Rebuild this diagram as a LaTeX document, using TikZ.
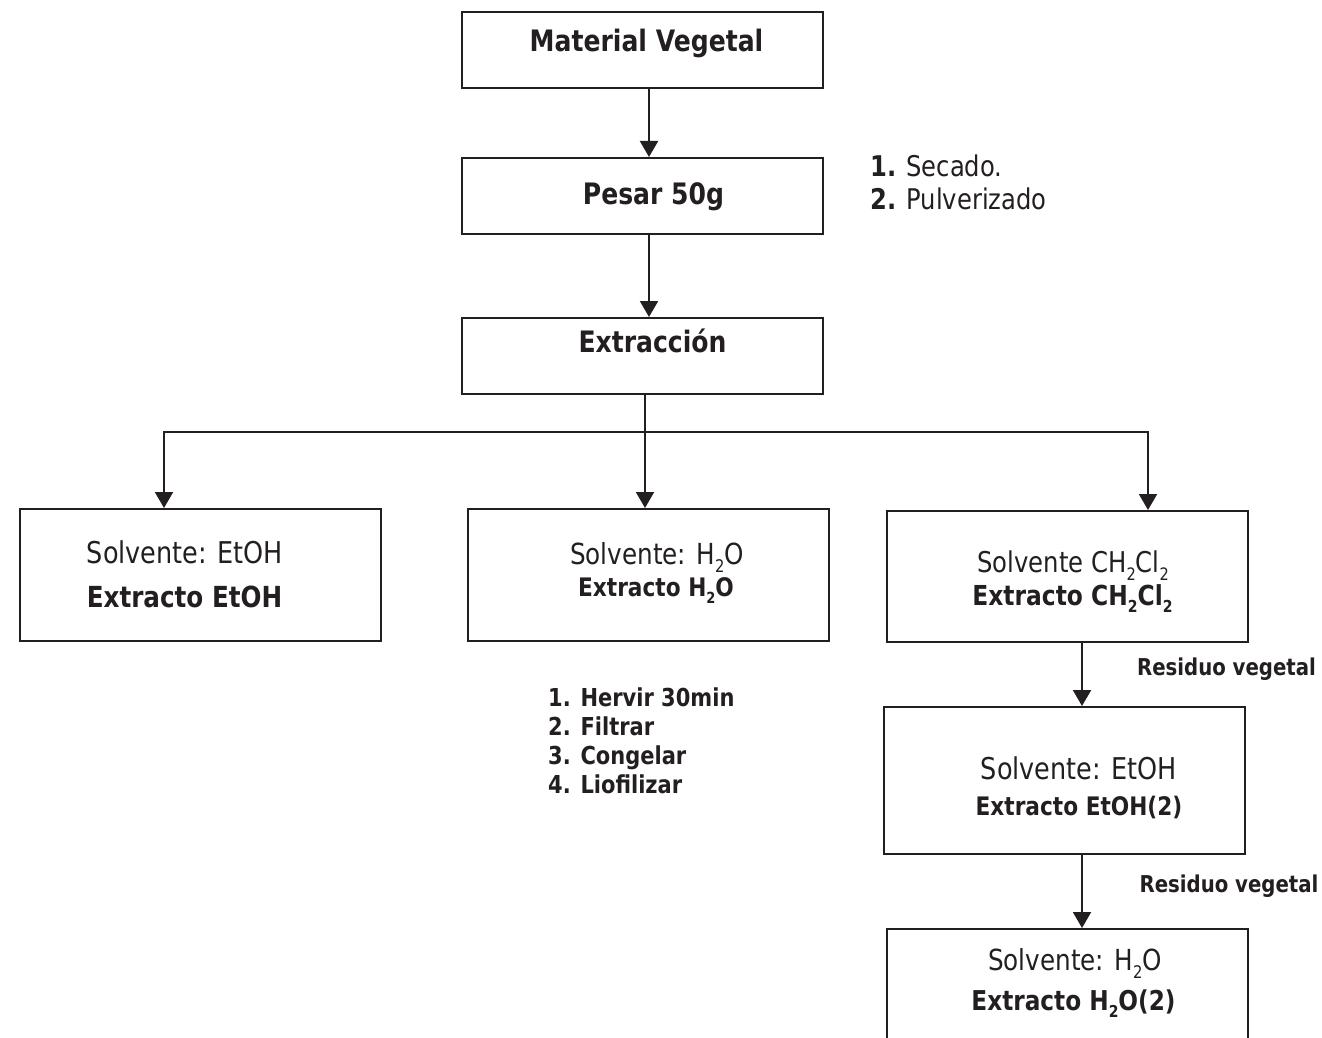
\documentclass[tikz,border=0pt]{standalone}
\usepackage{fontspec}
\setmainfont{DejaVu Sans}[FakeStretch=0.85]
\usetikzlibrary{arrows.meta}
\definecolor{ink}{RGB}{35,31,32}
\newcommand{\ltwo}{\raisebox{-.28em}{\scalebox{.6}{2}}}
\newcommand{\fs}[1]{\fontsize{#1}{#1}\selectfont}
\begin{document}
\begin{tikzpicture}[x=1pt,y=-1pt,
  box/.style={draw=ink,line width=2.2pt,anchor=north west,inner sep=0pt,minimum width=361pt},
  arr/.style={draw=ink,line width=2pt,-{Triangle[width=18pt,length=16pt]}},
  txt/.style={anchor=base,inner sep=0pt,text=ink},
  lst/.style={anchor=base west,inner sep=0pt,text=ink}]
\useasboundingbox (0,0) rectangle (1322,1038);
\clip (0,0) rectangle (1322,1038);
% boxes
\node[box,minimum height=76pt] (mv) at (461,11) {};
\node[box,minimum height=76pt] (ps) at (461,157) {};
\node[box,minimum height=76pt] (ex) at (461,317) {};
\node[box,minimum height=132pt] (b1) at (19,508) {};
\node[box,minimum height=132pt] (b2) at (467,508) {};
\node[box,minimum height=131pt] (b3) at (886,510) {};
\node[box,minimum height=147pt] (b4) at (883,706) {};
\node[box,minimum height=140pt] (b5) at (886,928) {};
% connectors
\coordinate (ax) at (649,0);
\draw[arr] (mv.south -| ax) -- (ps.north -| ax);
\draw[arr] (ps.south -| ax) -- (ex.north -| ax);
\coordinate (jc) at (645,432);
\coordinate (jl) at (164,432);
\coordinate (jr) at (1148,432);
\draw[arr] (ex.south -| jc) -- (b2.north -| jc);
\draw[arr] (jc) -- (jl) -- (b1.north -| jl);
\draw[arr] (jc) -- (jr) -- (b3.north -| jr);
\coordinate (rx) at (1082,0);
\draw[arr] (b3.south -| rx) -- (b4.north -| rx);
\draw[arr] (b4.south -| rx) -- (b5.north -| rx);
% texts
\node[txt,font=\fs{29.5}\bfseries] (tmv) at (646.5,52) {Material Vegetal};
\node[txt,font=\fs{29.5}\bfseries] (tps) at (653.5,204) {Pesar 50g};
\node[txt,font=\fs{29.5}\bfseries] (tex) at (652.5,352) {Extracción};
\node[lst,font=\fs{28.5}] (s1) at (870,176) {\textbf{1.} Secado.};
\node[lst,font=\fs{28.5}] (s2) at (870,209) {\textbf{2.} Pulverizado};
\node[txt,font=\fs{30}] (t1a) at (185,563) {Solvente: EtOH};
\node[txt,font=\fs{29}\bfseries] (t1b) at (184.5,607) {Extracto EtOH};
\node[txt,font=\fs{29}] (t2a) at (657,564) {Solvente: H\ltwo O};
\node[txt,font=\fs{25.5}\bfseries] (t2b) at (656,596) {Extracto H\ltwo O};
\node[txt,font=\fs{28.6}] (t3a) at (1073,572) {Solvente CH\ltwo Cl\ltwo};
\node[txt,font=\fs{27.5}\bfseries] (t3b) at (1072.5,605) {Extracto CH\ltwo Cl\ltwo};
\node[txt,font=\fs{23.2}\bfseries] (r1) at (1226.5,675) {Residuo vegetal};
\node[txt,font=\fs{30}] (t4a) at (1079,779) {Solvente: EtOH};
\node[txt,font=\fs{25.5}\bfseries] (t4b) at (1079,815) {Extracto EtOH(2)};
\node[txt,font=\fs{23.2}\bfseries] (r2) at (1229,892) {Residuo vegetal};
\node[txt,font=\fs{29}] (t5a) at (1075,970) {Solvente: H\ltwo O};
\node[txt,font=\fs{27.3}\bfseries] (t5b) at (1073.5,1010) {Extracto H\ltwo O(2)};
\node[lst,font=\fs{24.7}\bfseries] (h1) at (548,706) {1. Hervir 30min};
\node[lst,font=\fs{24.7}\bfseries] (h2) at (548,735) {2. Filtrar};
\node[lst,font=\fs{24.7}\bfseries] (h3) at (548,764) {3. Congelar};
\node[lst,font=\fs{24.7}\bfseries] (h4) at (548,793) {4. Liofilizar};
\end{tikzpicture}
\end{document}
